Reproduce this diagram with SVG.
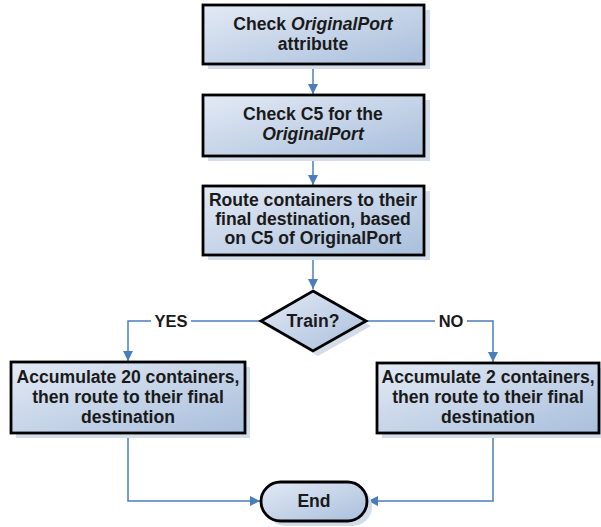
<svg xmlns="http://www.w3.org/2000/svg" width="601" height="527" viewBox="0 0 601 527">
<style>
.shape{fill:url(#g);stroke:#000;stroke-width:2.8}
.shadow{fill:#d3dce9;stroke:none}
.t{font-family:"Liberation Sans",Arial,sans-serif;font-weight:bold;font-size:17.6px;fill:#1a1a1a;text-anchor:middle}
.i{font-style:italic}
.c{fill:none;stroke:#4a7ebb;stroke-width:1.5}
.lbl{font-family:"Liberation Sans",Arial,sans-serif;font-weight:bold;font-size:16.5px;fill:#1a1a1a;text-anchor:middle}
</style>
<defs>
<linearGradient id="g" x1="0" y1="0" x2="1" y2="1">
<stop offset="0" stop-color="#e3eaf5"/>
<stop offset="1" stop-color="#a9bfdc"/>
</linearGradient>
<marker id="a" viewBox="0 0 10 10" refX="10" refY="5" markerWidth="10" markerHeight="10" markerUnits="userSpaceOnUse" orient="auto">
<path d="M0,0 L10,5 L0,10 Z" fill="#4a7ebb"/>
</marker>
</defs>
<g id="connectors">
<path class="c" d="M313,64 V94" marker-end="url(#a)"/>
<path class="c" d="M313,157 V185" marker-end="url(#a)"/>
<path class="c" d="M313,256 V289" marker-end="url(#a)"/>
<path class="c" d="M261,321 H128 V361" marker-end="url(#a)"/>
<path class="c" d="M366,321 H493 V362" marker-end="url(#a)"/>
<path class="c" d="M128,434 V501 H260" marker-end="url(#a)"/>
<path class="c" d="M493,434 V501 H368" marker-end="url(#a)"/>
<rect x="151" y="312" width="40" height="18" fill="#fff"/>
<text class="lbl" x="171" y="327">YES</text>
<rect x="435" y="312" width="32" height="18" fill="#fff"/>
<text class="lbl" x="451" y="327">NO</text>
</g>
<g id="n1">
<rect class="shadow" x="208" y="10" width="222" height="59"/>
<rect class="shape" x="203" y="5" width="221" height="59"/>
<text class="t" x="313" y="30">Check <tspan class="i">OriginalPort</tspan></text>
<text class="t" x="313" y="50">attribute</text>
</g>
<g id="n2">
<rect class="shadow" x="208" y="100" width="222" height="61"/>
<rect class="shape" x="203" y="95" width="221" height="61"/>
<text class="t" x="313" y="120">Check C5 for the</text>
<text class="t i" x="313" y="140">OriginalPort</text>
</g>
<g id="n3">
<rect class="shadow" x="208" y="191" width="222" height="69"/>
<rect class="shape" x="203" y="186" width="221" height="69"/>
<text class="t" x="313" y="206">Route containers to their</text>
<text class="t" x="313" y="225">final destination, based</text>
<text class="t" x="313" y="244">on C5 of OriginalPort</text>
</g>
<g id="decision">
<polygon class="shadow" points="318,296 371,326 318,356 266,326"/>
<polygon class="shape" points="313,291 366,321 313,351 261,321"/>
<text class="t" x="313" y="327">Train?</text>
</g>
<g id="n4">
<rect class="shadow" x="16" y="367" width="234" height="71"/>
<rect class="shape" x="11" y="362" width="234" height="71"/>
<text class="t" x="128" y="383">Accumulate 20 containers,</text>
<text class="t" x="128" y="403">then route to their final</text>
<text class="t" x="128" y="423">destination</text>
</g>
<g id="n5">
<rect class="shadow" x="382" y="368" width="230" height="70"/>
<rect class="shape" x="377" y="363" width="222" height="70"/>
<text class="t" x="488" y="383">Accumulate 2 containers,</text>
<text class="t" x="488" y="403">then route to their final</text>
<text class="t" x="488" y="423">destination</text>
</g>
<g id="end">
<rect class="shadow" x="266" y="487" width="106" height="39" rx="19.5"/>
<rect class="shape" x="261" y="482" width="106" height="39" rx="19.5"/>
<text class="t" x="314" y="507">End</text>
</g>
</svg>
